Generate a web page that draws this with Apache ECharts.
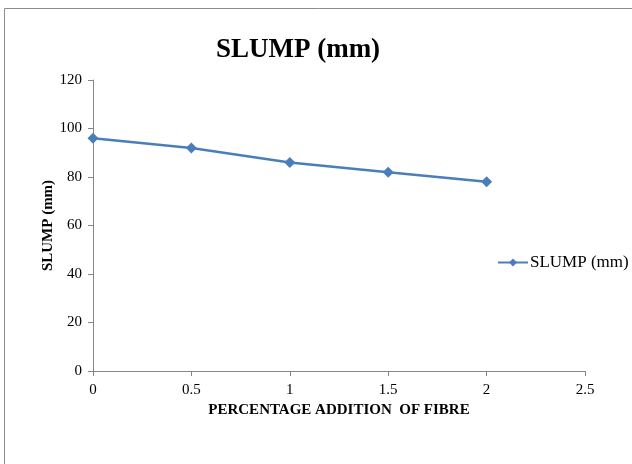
<!DOCTYPE html>
<html><head><meta charset="utf-8">
<script src="https://cdn.jsdelivr.net/npm/echarts@6/dist/echarts.min.js"></script>
<style>html,body{margin:0;padding:0;background:#fff}#c{width:632px;height:464px}</style>
</head><body><div id="c"></div>
<script>
const xValues = [0, 0.5, 1, 1.5, 2];
const slump = [96, 92, 86, 82, 78];
const seriesName = 'SLUMP (mm)';
const titleText = 'SLUMP (mm)';
const xName = 'PERCENTAGE ADDITION  OF FIBRE';
const yName = 'SLUMP (mm)';

const chart = echarts.init(document.getElementById('c'));
const font = '"Liberation Serif", "Times New Roman", serif';
chart.setOption({
  animation: false,
  backgroundColor: '#fff',
  graphic: [{type:'rect', shape:{x:4.5,y:8.5,width:700,height:600}, style:{fill:'none', stroke:'#8c8c8c', lineWidth:1}, silent:true}],
  title: {text: titleText, left: 293, top: 32, textAlign: 'center',
    textStyle:{fontFamily: font, fontSize: 27, fontWeight:'bold', color:'#000'}},
  grid: {left: 93, right: 47, top: 80, bottom: 93},
  legend: {data:[seriesName], left: 492, top: 249, itemWidth: 30, itemHeight: 10, itemGap: 2,
    textStyle:{fontFamily: font, fontSize: 17, color:'#000', padding:[0,0,0,-3]}},
  xAxis: {type:'value', min:0, max:2.5, interval:0.5, name: xName, nameLocation:'middle', nameGap: 32,
    nameMoveOverlap: false,
    nameTextStyle:{fontFamily: font, fontSize: 15, fontWeight:'bold', color:'#000'},
    axisLine:{lineStyle:{color:'#868686'}}, axisTick:{show:true, length:5, lineStyle:{color:'#868686'}},
    splitLine:{show:false},
    axisLabel:{fontFamily: font, fontSize: 15, color:'#000', margin: 12}},
  yAxis: {type:'value', min:0, max:120, interval:20, name: yName, nameLocation:'middle', nameGap: 37, nameRotate: 90,
    nameMoveOverlap: false,
    nameTextStyle:{fontFamily: font, fontSize: 15, fontWeight:'bold', color:'#000'},
    axisLine:{show:true, lineStyle:{color:'#868686'}}, axisTick:{show:true, length:5, lineStyle:{color:'#868686'}},
    splitLine:{show:false},
    axisLabel:{fontFamily: font, fontSize: 15, color:'#000', margin: 11}},
  series: [{name: seriesName, type:'line', data: xValues.map((x,i)=>[x, slump[i]]),
    symbol:'diamond', symbolSize: 11, showAllSymbol:true,
    lineStyle:{color:'#4a7ebb', width:2.5}, itemStyle:{color:'#4a7ebb'}}]
});
</script></body></html>
